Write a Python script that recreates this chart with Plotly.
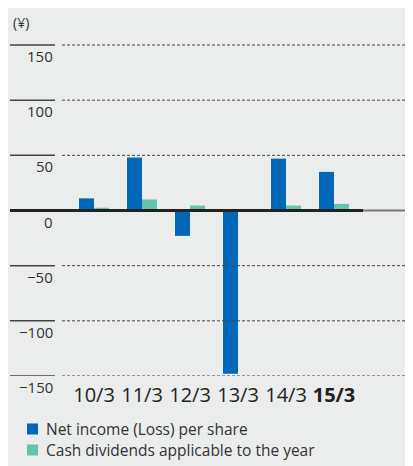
import plotly.graph_objects as go

categories = ["10/3", "11/3", "12/3", "13/3", "14/3", "15/3"]
tick_text = ["10/3", "11/3", "12/3", "13/3", "14/3", "<b>15/3</b>"]
net_income = [11, 48, -23, -148, 47, 35]
dividends = [2.5, 10, 4.5, 0, 4.5, 6]
y_ticks = [150, 100, 50, 0, -50, -100, -150]
y_tick_labels = ["150", "100", "50", "0", "−50", "−100", "−150"]
series_names = ["Net income (Loss) per share", "Cash dividends applicable to the year"]

BLUE = "#0068B7"
GREEN = "#62C4AF"
BG = "#EBECEC"
FONT = "Open Sans"

# page body has an 8px margin: screen = figure + 8
OFF = 8
W, H = 413, 466
ML, MR, MT, MB = 54, 0, 22, 98
PW = W - ML - MR
PH = H - MT - MB


def px_x(sx):
    return (sx - OFF - ML) / PW


def px_y(sy):
    return (H - MB - (sy - OFF)) / PH


fig = go.Figure()
fig.add_trace(go.Bar(x=categories, y=net_income, name=series_names[0],
                     marker=dict(color=BLUE, line=dict(width=0)), showlegend=False))
fig.add_trace(go.Bar(x=categories, y=dividends, name=series_names[1],
                     marker=dict(color=GREEN, line=dict(width=0)), showlegend=False))

shapes = []
annotations = []
for v, lab in zip(y_ticks, y_tick_labels):
    if v != 0:
        shapes.append(dict(type="line", xref="paper", yref="y", x0=px_x(10), x1=px_x(55),
                           y0=v, y1=v, line=dict(color="#444", width=1.5)))
        shapes.append(dict(type="line", xref="paper", yref="y", x0=0, x1=1,
                           y0=v, y1=v, line=dict(color="#444", width=1, dash="3px,2px")))
    annotations.append(dict(xref="paper", yref="y", x=px_x(55), y=v, text=lab,
                            showarrow=False, xanchor="right", yanchor="middle", yshift=-11,
                            font=dict(family=FONT, size=15, color="#333")))
# zero line
shapes.append(dict(type="line", xref="paper", yref="y", x0=px_x(10), x1=px_x(363),
                   y0=0, y1=0, line=dict(color="#222", width=3)))
shapes.append(dict(type="line", xref="paper", yref="y", x0=px_x(363), x1=1,
                   y0=0, y1=0, line=dict(color="#777", width=2)))

# unit label
annotations.append(dict(xref="paper", yref="paper", x=px_x(11), y=px_y(22), text="(¥)",
                        showarrow=False, xanchor="left", yanchor="middle",
                        font=dict(family=FONT, size=14, color="#333")))

# legend
for i, (nm, col) in enumerate(zip(series_names, [BLUE, GREEN])):
    cy = 429 + 21 * i
    shapes.append(dict(type="rect", xref="paper", yref="paper", x0=px_x(27), x1=px_x(38),
                       y0=px_y(cy - 5.5), y1=px_y(cy + 5.5), fillcolor=col, line=dict(width=0)))
    annotations.append(dict(xref="paper", yref="paper", x=px_x(44), y=px_y(cy), text=nm,
                            showarrow=False, xanchor="left", yanchor="middle",
                            font=dict(family=FONT, size=15.5, color="#333")))

fig.update_layout(
    width=W, height=H,
    margin=dict(l=ML, r=MR, t=MT, b=MB),
    paper_bgcolor=BG, plot_bgcolor=BG,
    barmode="group", bargap=0.375, bargroupgap=0,
    xaxis=dict(type="category", range=[-0.667, 6.8125], showgrid=False, zeroline=False,
               showline=False, ticks="", tickvals=categories, ticktext=tick_text,
               ticklabelstandoff=5,
               tickfont=dict(family=FONT, size=20, color="#222")),
    yaxis=dict(range=[-150, 163.6], showgrid=False, zeroline=False, showline=False,
               showticklabels=False, ticks=""),
    shapes=shapes, annotations=annotations,
    font=dict(family=FONT),
)
fig.write_html("out.html")
